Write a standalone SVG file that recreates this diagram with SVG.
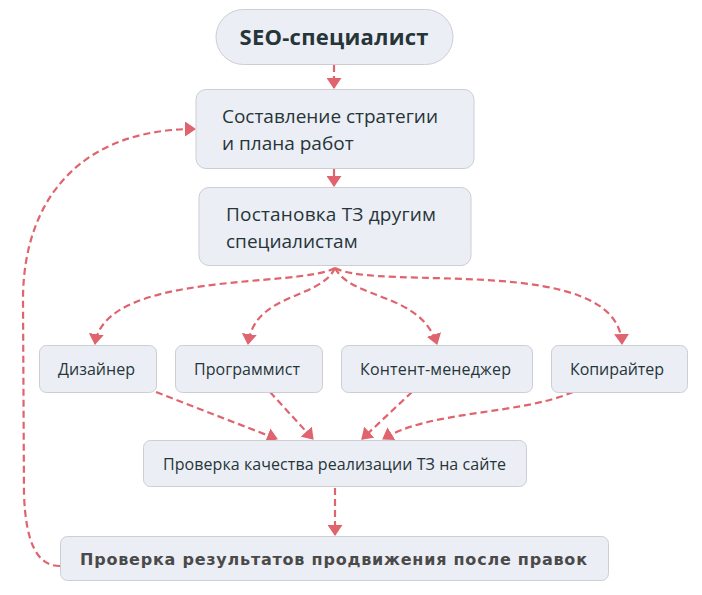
<svg xmlns="http://www.w3.org/2000/svg" width="702" height="595" viewBox="0 0 702 595">
<style>
.node{fill:#eceef6;stroke:#cdcdd4;stroke-width:1}
.t{font-family:"Open Sans","Noto Sans",sans-serif;fill:#263538;font-size:16px}
.big{font-size:19px}
.b{font-weight:bold}
.e{fill:none;stroke:#e0646e;stroke-width:2.2;stroke-dasharray:7,4}
.res{font-family:"DejaVu Sans",sans-serif;font-weight:bold;fill:#4a4a4a;font-size:16px}
</style>
<defs>
<marker id="ah" viewBox="0 0 11 15" refX="10" refY="7.5" markerWidth="11" markerHeight="15" orient="auto" markerUnits="userSpaceOnUse">
<path d="M0,0 L11,7.5 L0,15 z" fill="#e0646e"/>
</marker>
</defs>
<rect width="702" height="595" fill="#ffffff"/>
<g id="connectors">
<path class="e" d="M334,65 L334,88" marker-end="url(#ah)"/>
<path class="e" d="M334,169 L334,186" marker-end="url(#ah)"/>
<path class="e" d="M335,268 C300,288 105,270 95,344" marker-end="url(#ah)"/>
<path class="e" d="M335,268 C320,300 255,292 248,344" marker-end="url(#ah)"/>
<path class="e" d="M335,268 C352,300 420,292 437,344" marker-end="url(#ah)"/>
<path class="e" d="M335,268 C380,292 618,252 622,344" marker-end="url(#ah)"/>
<path class="e" d="M156,392 L277,439" marker-end="url(#ah)"/>
<path class="e" d="M270,392 L313,439" marker-end="url(#ah)"/>
<path class="e" d="M412,392 L362,439" marker-end="url(#ah)"/>
<path class="e" d="M573,392 C520,415 430,410 383,439" marker-end="url(#ah)"/>
<path class="e" d="M335,488 L335,535" marker-end="url(#ah)"/>
<path class="e" d="M60,566 C38,566 26,545 24,495 L23,300 C23,200 80,129 195,129" marker-end="url(#ah)"/>
</g>
<g id="n-seo">
<rect class="node" x="216" y="9.5" width="237" height="55" rx="27.5"/>
<text class="t b" x="334" y="45" text-anchor="middle" style="font-size:22px" textLength="189">SEO-специалист</text>
</g>
<g id="n-strategy">
<rect class="node" x="196" y="89.5" width="278" height="79" rx="10"/>
<text class="t big" x="222" y="123" textLength="216">Составление стратегии</text>
<text class="t big" x="222" y="150">и плана работ</text>
</g>
<g id="n-tz">
<rect class="node" x="199" y="187.5" width="272" height="78" rx="10"/>
<text class="t big" x="226" y="221" textLength="210">Постановка ТЗ другим</text>
<text class="t big" x="226" y="248">специалистам</text>
</g>
<g id="n-designer">
<rect class="node" x="39.5" y="345.5" width="117" height="47" rx="7"/>
<text class="t" x="58" y="375" textLength="77">Дизайнер</text>
</g>
<g id="n-programmer">
<rect class="node" x="175.5" y="345.5" width="147" height="47" rx="7"/>
<text class="t" x="194" y="375" textLength="106">Программист</text>
</g>
<g id="n-content">
<rect class="node" x="341.5" y="345.5" width="191" height="47" rx="7"/>
<text class="t" x="360" y="375" textLength="151">Контент-менеджер</text>
</g>
<g id="n-copywriter">
<rect class="node" x="551.5" y="345.5" width="136" height="47" rx="7"/>
<text class="t" x="570" y="375" textLength="94">Копирайтер</text>
</g>
<g id="n-quality">
<rect class="node" x="143.5" y="440.5" width="383" height="46" rx="7"/>
<text class="t" x="163" y="470" textLength="343">Проверка качества реализации ТЗ на сайте</text>
</g>
<g id="n-results">
<rect class="node" x="60.5" y="536.5" width="548" height="44" rx="7"/>
<text class="res" x="80" y="565" textLength="507">Проверка результатов продвижения после правок</text>
</g>
</svg>
